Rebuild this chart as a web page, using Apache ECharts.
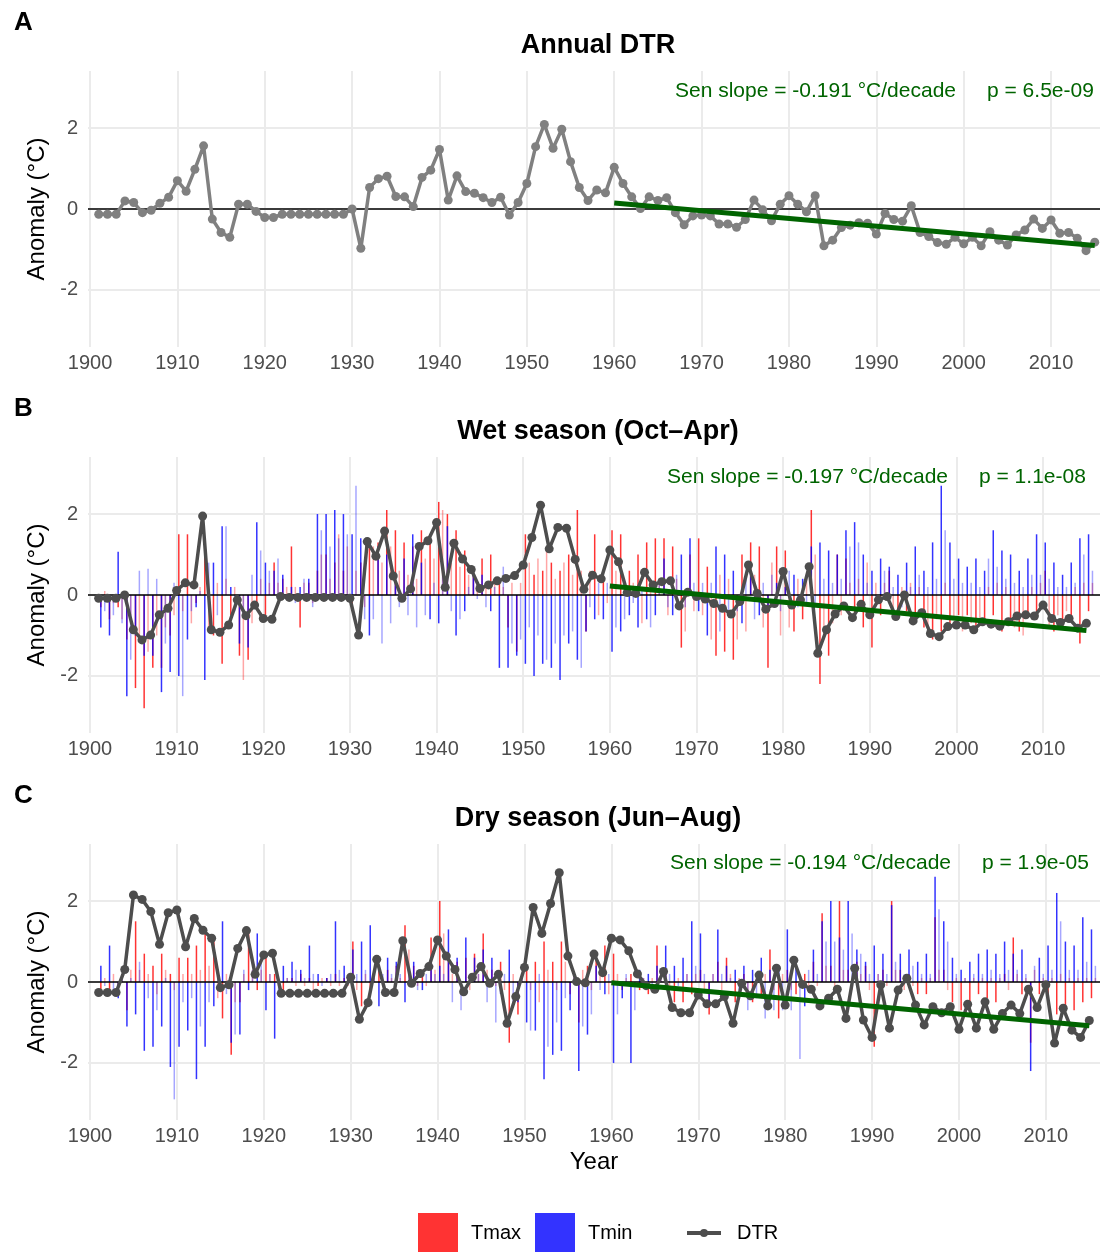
<!DOCTYPE html>
<html>
<head>
<meta charset="utf-8">
<title>DTR anomalies</title>
<script src="https://cdn.jsdelivr.net/npm/echarts@6/dist/echarts.min.js"></script>
<style>
html,body{margin:0;padding:0;background:#fff}
#chart{width:1100px;height:1252px}
</style>
</head>
<body>
<div id="chart"></div>
<script>
var firstYear = 1901, lastYear = 2015;
var years = [];
for (var y = firstYear; y <= lastYear; y++) years.push(y);
var xTicks = [1900, 1910, 1920, 1930, 1940, 1950, 1960, 1970, 1980, 1990, 2000, 2010];
var yTicks = [-2, 0, 2];

// DTR anomaly, one value per year 1901-2015
var dtrAnnual = [
  -0.13, -0.13, -0.13, 0.20, 0.16, -0.09, -0.03, 0.14, 0.29, 0.70,
  0.44, 0.98, 1.56, -0.25, -0.58, -0.70, 0.12, 0.12, -0.06, -0.21,
  -0.21, -0.13, -0.13, -0.13, -0.13, -0.13, -0.13, -0.13, -0.13, 0.00,
  -0.97, 0.53, 0.75, 0.81, 0.31, 0.30, 0.06, 0.78, 0.96, 1.47,
  0.22, 0.82, 0.43, 0.39, 0.28, 0.16, 0.29, -0.15, 0.16, 0.63,
  1.54, 2.09, 1.50, 1.97, 1.17, 0.53, 0.21, 0.47, 0.40, 1.03,
  0.63, 0.30, 0.01, 0.30, 0.21, 0.28, -0.09, -0.39, -0.17, -0.15,
  -0.17, -0.37, -0.37, -0.45, -0.26, 0.22, -0.02, -0.29, 0.12, 0.33,
  0.12, -0.07, 0.33, -0.91, -0.77, -0.46, -0.40, -0.34, -0.35, -0.62,
  -0.11, -0.26, -0.30, 0.08, -0.58, -0.68, -0.83, -0.87, -0.70, -0.86,
  -0.70, -0.91, -0.56, -0.77, -0.89, -0.64, -0.52, -0.25, -0.48, -0.27,
  -0.60, -0.58, -0.72, -1.03, -0.82
];
var dtrWet = [
  -0.08, -0.08, -0.08, 0.00, -0.86, -1.11, -0.99, -0.49, -0.33, 0.11,
  0.30, 0.25, 1.95, -0.86, -0.92, -0.74, -0.12, -0.51, -0.25, -0.58,
  -0.60, -0.04, -0.06, -0.06, -0.06, -0.06, -0.06, -0.06, -0.06, -0.08,
  -0.99, 1.32, 0.96, 1.58, 0.47, -0.08, 0.15, 1.20, 1.34, 1.79,
  0.19, 1.28, 0.89, 0.63, 0.16, 0.25, 0.35, 0.41, 0.48, 0.74,
  1.42, 2.22, 1.14, 1.67, 1.65, 0.88, 0.14, 0.49, 0.40, 1.11,
  0.82, 0.06, 0.04, 0.56, 0.25, 0.33, 0.35, -0.27, 0.07, -0.04,
  -0.10, -0.21, -0.33, -0.47, -0.16, 0.74, 0.04, -0.35, -0.21, 0.58,
  -0.25, -0.12, 0.70, -1.44, -0.86, -0.47, -0.27, -0.56, -0.23, -0.49,
  -0.12, -0.04, -0.53, 0.00, -0.64, -0.44, -0.95, -1.03, -0.78, -0.74,
  -0.74, -0.86, -0.66, -0.72, -0.77, -0.66, -0.52, -0.49, -0.52, -0.25,
  -0.58, -0.68, -0.58, -0.82, -0.70
];
var dtrDry = [
  -0.26, -0.26, -0.26, 0.31, 2.15, 2.04, 1.74, 0.93, 1.71, 1.78,
  0.87, 1.57, 1.28, 1.08, -0.14, -0.07, 0.83, 1.27, 0.19, 0.67,
  0.71, -0.28, -0.28, -0.28, -0.28, -0.28, -0.28, -0.28, -0.28, 0.12,
  -0.92, -0.51, 0.56, -0.26, -0.26, 1.02, -0.03, 0.21, 0.38, 1.04,
  0.64, 0.31, -0.24, 0.12, 0.38, -0.03, 0.19, -1.02, -0.36, 0.36,
  1.84, 1.20, 1.94, 2.70, 0.64, 0.01, -0.02, 0.69, 0.23, 1.08,
  1.04, 0.77, 0.20, -0.09, -0.18, 0.26, -0.63, -0.76, -0.76, -0.32,
  -0.54, -0.54, -0.36, -1.02, -0.03, -0.34, 0.17, -0.59, 0.34, -0.57,
  0.54, -0.06, -0.18, -0.59, -0.40, -0.18, -0.90, 0.34, -0.94, -1.37,
  -0.07, -1.14, -0.20, 0.09, -0.57, -1.06, -0.61, -0.76, -0.61, -1.17,
  -0.55, -1.14, -0.49, -1.17, -0.78, -0.57, -0.78, -0.18, -0.63, -0.07,
  -1.51, -0.65, -1.19, -1.37, -0.95
];

// Sen slope lines, 1960-2015
var trendAnnual = [[1960, 0.15], [2015, -0.90]];
var trendWet = [[1960, 0.22], [2015, -0.88]];
var trendDry = [[1960, -0.02], [2015, -1.08]];
var senText = ['Sen slope = -0.191 \u00b0C/decade', 'Sen slope = -0.197 \u00b0C/decade', 'Sen slope = -0.194 \u00b0C/decade'];
var pText = ['p = 6.5e-09', 'p = 1.1e-08', 'p = 1.9e-05'];

// Tmax / Tmin anomalies, two readings per year [strong, faint]
var tmaxWet = [
  [-0.3,0.1],[-0.6,-0.2],[-0.3,-0.6],[-1.1,-0.5],[-2.3,-1.0],[-2.8,-1.4],[-1.8,-1.0],[-1.8,-0.8],[-1.0,-0.5],[1.5,-0.4],
  [1.5,-0.7],[-0.2,0.2],[1.2,-0.8],[-1.0,0.3],[-1.7,0.4],[-0.5,0.2],[-1.5,-2.1],[-1.6,-0.7],[-0.3,0.4],[-0.5,0.3],
  [0.8,0.3],[0.4,0.2],[1.2,0.2],[-0.8,0.3],[0.3,-0.2],[0.6,1.0],[1.0,0.4],[0.8,1.5],[0.6,1.2],[-0.3,0.6],
  [0.8,-0.3],[1.4,1.2],[1.3,0.8],[2.1,1.2],[1.6,0.6],[1.3,0.5],[1.2,0.4],[1.6,0.9],[1.4,0.9],[2.3,2.1],
  [2.0,0.8],[1.6,0.7],[1.1,0.5],[0.5,0.3],[0.9,0.3],[1.0,0.4],[0.4,0.2],[-0.8,0.3],[-1.4,0.3],[1.5,0.8],
  [0.5,0.9],[0.6,1.2],[0.8,0.4],[0.6,0.8],[1.0,0.5],[2.1,0.6],[-0.9,0.6],[1.5,-0.5],[0.4,-0.2],[1.6,0.6],
  [1.5,0.3],[0.6,0.3],[1.0,-0.7],[1.3,0.4],[1.4,0.3],[1.4,-0.5],[1.2,0.4],[-1.3,-0.9],[1.0,-0.4],[1.4,-0.5],
  [0.7,-1.1],[-1.5,0.5],[-1.4,0.4],[-1.6,-1.1],[1.0,-0.9],[1.3,0.5],[1.2,-0.8],[-1.8,0.8],[1.2,-1.0],[1.1,-0.8],
  [-0.9,0.4],[-0.6,0.5],[2.1,1.0],[-2.2,-1.1],[-1.5,-0.7],[1.0,-0.5],[0.9,0.3],[-0.5,0.4],[-0.8,0.8],[-1.3,0.3],
  [-0.5,0.3],[0.6,-0.6],[-0.5,0.2],[-0.4,0.3],[-0.6,0.2],[-0.8,-1.0],[-1.1,-0.6],[-0.9,0.3],[-0.8,-0.6],[-0.5,-0.9],
  [-0.5,-0.7],[-0.9,-0.6],[-0.7,0.2],[-0.5,0.3],[-0.9,0.2],[-0.7,-0.8],[-0.9,-1.0],[-0.5,0.2],[-0.6,0.3],[0.6,-0.8],
  [-0.9,-0.5],[-0.8,-0.4],[-0.6,0.2],[-1.2,0.3],[-0.4,0.3]
];
var tminWet = [
  [-0.8,-0.4],[-1.0,-0.5],[1.07,-0.7],[-2.5,-1.6],[-1.0,0.6],[-1.5,0.65],[-1.5,0.4],[-2.4,-1.2],[-1.9,0.3],[-2.0,-2.5],
  [-1.1,-0.4],[-0.3,0.1],[-2.1,0.8],[0.8,-0.5],[1.7,1.7],[0.2,-0.4],[-1.2,-0.5],[-1.3,0.5],[1.8,1.1],[0.8,0.6],
  [0.6,0.9],[0.5,-0.1],[0.2,-0.2],[0.2,0.4],[0.4,-0.3],[2.0,1.6],[2.0,1.2],[2.1,1.4],[2.0,1.5],[1.5,2.7],
  [1.4,-0.6],[-1.0,-0.6],[1.2,-1.2],[1.0,-0.7],[0.3,-0.3],[0.9,-0.5],[1.5,-0.8],[0.8,-0.5],[-0.6,0.3],[-0.7,0.5],
  [1.7,-0.4],[-1.0,-0.6],[-0.4,0.2],[0.5,-0.1],[0.5,-0.3],[-0.4,0.2],[-1.8,0.7],[-1.8,-1.2],[-1.5,-1.1],[-1.7,-0.8],
  [-2.0,-1.0],[-1.7,-1.6],[-1.8,-1.2],[-2.1,-1.0],[-1.2,-0.9],[-1.6,-1.8],[-0.9,-0.3],[-0.6,0.3],[-0.6,0.3],[-1.4,-0.8],
  [-0.9,-0.6],[-0.5,-0.2],[-0.8,0.2],[-0.6,-0.8],[-0.5,0.3],[0.9,-0.3],[-0.5,0.5],[1.0,-0.3],[1.4,0.3],[-0.4,0.3],
  [-1.0,0.3],[1.2,-0.9],[1.0,-0.5],[0.6,-0.4],[-0.7,0.4],[0.6,-0.6],[-0.5,0.3],[-0.3,0.5],[0.3,-0.4],[0.2,0.6],
  [0.5,-0.3],[0.4,-0.2],[1.2,-0.3],[1.3,0.4],[1.1,0.3],[1.0,0.4],[1.6,1.2],[1.8,1.3],[1.0,0.3],[0.6,-0.3],
  [0.9,0.6],[0.7,0.2],[0.5,-0.3],[0.8,0.2],[1.2,0.5],[0.6,0.2],[1.3,0.4],[2.7,1.6],[1.3,0.4],[0.9,0.3],
  [0.7,0.3],[0.9,0.2],[0.6,0.9],[1.6,0.7],[1.1,0.4],[1.0,0.3],[0.6,0.2],[0.9,0.5],[1.5,0.5],[1.3,0.4],
  [0.8,0.2],[0.5,0.2],[0.8,0.3],[1.4,1.0],[1.5,0.6]
];
var tmaxDry = [
  [-0.2,0.1],[-0.3,0.2],[-0.3,0.1],[-0.7,0.3],[1.5,0.3],[0.7,0.2],[0.4,-0.3],[0.7,0.3],[0.2,-0.2],[0.6,0.2],
  [0.6,0.2],[0.9,0.3],[1.2,0.4],[1.0,-0.4],[-0.9,0.2],[-1.8,-0.5],[-0.5,0.2],[1.2,0.3],[-0.2,0.3],[0.6,0.2],
  [0.2,-0.1],[-0.2,0.1],[0.1,-0.1],[0.2,-0.1],[0.1,-0.2],[-0.1,0.1],[0.1,-0.1],[0.2,-0.1],[0.1,-0.1],[1.0,-0.2],
  [-0.6,0.2],[-0.3,0.1],[0.3,-0.1],[0.3,0.1],[0.4,0.1],[1.4,0.8],[0.4,-0.1],[0.3,-0.1],[1.1,0.3],[2.0,1.2],
  [0.6,0.2],[0.5,-0.2],[0.6,-0.2],[0.7,0.2],[1.2,0.3],[0.3,-0.1],[0.5,-0.2],[-1.5,0.2],[-0.8,0.2],[0.4,-0.2],
  [0.5,-0.5],[1.0,0.3],[0.5,-0.2],[1.0,0.5],[-0.3,0.2],[-1.0,0.3],[0.4,-0.2],[0.6,0.2],[0.9,-0.3],[0.7,0.2],
  [-0.2,0.1],[0.2,-0.1],[-0.2,0.1],[-0.3,0.1],[0.9,0.2],[0.3,-0.1],[-0.5,0.1],[-0.5,0.2],[-0.3,0.2],[0.3,-0.2],
  [-0.8,0.2],[0.5,-0.2],[0.6,0.2],[-0.5,0.1],[0.2,-0.2],[-0.5,0.1],[-0.4,0.2],[0.8,-0.2],[-0.9,0.2],[0.3,-0.2],
  [-0.3,0.2],[0.2,-0.2],[0.5,-0.1],[1.7,0.4],[0.4,-0.2],[2.0,0.3],[0.3,-0.2],[0.5,0.2],[0.4,-0.2],[-1.6,0.2],
  [0.3,-0.1],[2.0,0.3],[0.3,-0.2],[0.2,-0.1],[-0.3,0.1],[-0.3,0.1],[1.6,0.3],[0.3,-0.2],[-0.5,0.1],[-0.7,0.1],
  [-0.5,0.1],[-0.3,0.1],[-0.4,0.1],[-0.5,0.1],[0.2,-0.2],[1.1,0.2],[-0.3,0.1],[-1.5,0.3],[-0.3,0.1],[-0.4,0.1],
  [-0.8,0.2],[-0.6,0.1],[-0.7,0.1],[-0.5,0.1],[-0.4,0.1]
];
var tminDry = [
  [0.4,-0.1],[0.9,-0.3],[-0.4,0.2],[-1.1,0.1],[-0.8,0.5],[-1.7,-0.4],[-1.6,-0.7],[-1.1,0.1],[-2.1,-2.9],[-1.6,-0.5],
  [-1.2,-0.4],[-2.4,-1.1],[-1.6,-0.5],[-0.6,0.2],[1.5,-0.3],[-1.5,-1.3],[-1.3,0.3],[-0.2,0.3],[1.2,0.7],[-0.7,0.2],
  [-1.4,-0.3],[0.4,0.1],[0.5,0.3],[0.3,0.1],[0.9,0.2],[0.2,-0.1],[0.1,0.2],[1.5,0.3],[0.4,0.1],[0.8,0.2],
  [1.0,0.3],[1.4,0.2],[-0.6,0.2],[0.6,0.2],[0.5,0.2],[-0.5,0.2],[0.5,-0.2],[-0.2,0.2],[0.5,0.2],[0.4,0.2],
  [1.3,-0.5],[0.6,-0.7],[1.1,0.2],[0.6,0.2],[0.8,-0.5],[0.6,-1.0],[-0.3,0.2],[0.8,-0.6],[-0.5,0.2],[-1.0,-1.2],
  [-1.2,0.2],[-2.4,-1.6],[-1.8,-1.0],[-1.7,-0.4],[-0.7,0.2],[-2.2,-1.1],[-1.3,-0.8],[0.4,-0.2],[-0.3,0.2],[-2.0,-0.8],
  [-0.4,0.2],[-2.0,-0.7],[0.3,0.1],[0.2,-0.1],[0.4,0.1],[0.9,0.2],[0.4,-0.1],[0.6,0.2],[1.5,0.4],[1.2,0.2],
  [-0.5,0.2],[1.3,0.2],[0.4,0.1],[0.3,-0.2],[0.4,-0.7],[0.3,-0.4],[0.6,-0.9],[0.3,-0.7],[0.4,-0.7],[1.3,-0.7],
  [0.6,-1.9],[-0.6,0.3],[0.8,0.2],[1.5,1.0],[2.0,1.0],[1.1,0.8],[2.0,1.2],[0.8,0.7],[0.5,0.2],[0.9,0.2],
  [0.7,0.2],[1.9,0.5],[0.7,0.2],[0.8,0.4],[0.5,0.2],[0.7,0.2],[2.6,1.8],[1.5,1.0],[0.6,0.2],[0.3,0.1],
  [0.5,0.2],[0.7,0.2],[0.8,0.3],[0.7,0.2],[1.0,0.3],[0.7,0.3],[0.8,0.2],[-2.2,0.4],[0.6,0.2],[0.9,0.3],
  [2.2,1.5],[1.0,0.3],[0.9,0.3],[1.6,0.5],[1.3,0.4]
];

var FONT = 'Liberation Sans, Arial, Helvetica, sans-serif';
var subOffsets = [0.25, 0.7];
var subAlpha = [0.8, 0.35];

var panels = [
  { top: 71, xMax: 2015.6, dtr: dtrAnnual, dtrColor: '#808080', trend: trendAnnual, title: 'Annual DTR', letter: 'A' },
  { top: 457, xMax: 2016.57, dtr: dtrWet, dtrColor: '#4d4d4d', trend: trendWet, tmax: tmaxWet, tmin: tminWet, title: 'Wet season (Oct\u2013Apr)', letter: 'B' },
  { top: 844, xMax: 2016.23, dtr: dtrDry, dtrColor: '#4d4d4d', trend: trendDry, tmax: tmaxDry, tmin: tminDry, title: 'Dry season (Jun\u2013Aug)', letter: 'C' }
];
var senPos = [[675, 987, 92], [667, 979, 478], [670, 982, 864]];

function barData(pairs) {
  var out = [];
  for (var i = 0; i < pairs.length; i++) {
    for (var k = 0; k < 2; k++) out.push([years[i] + subOffsets[k], pairs[i][k], k]);
  }
  return out;
}

function renderBar(params, api) {
  var base = api.coord([api.value(0), 0]);
  var tip = api.coord([api.value(0), api.value(1)]);
  return {
    type: 'rect',
    shape: { x: base[0] - 0.75, y: Math.min(base[1], tip[1]), width: 1.5, height: Math.abs(tip[1] - base[1]) },
    style: { fill: api.visual('color'), opacity: subAlpha[api.value(2)] }
  };
}

var grids = [], xAxes = [], yAxes = [], series = [], titles = [], graphics = [];

panels.forEach(function (p, i) {
  grids.push({ left: 88, right: 0, top: p.top, height: 276 });
  xAxes.push({
    type: 'value', gridIndex: i, min: 1899.77, max: p.xMax,
    name: i === 2 ? 'Year' : '', nameLocation: 'middle', nameGap: 30,
    nameTextStyle: { fontSize: 24, color: '#000', fontFamily: FONT },
    axisLine: { show: false },
    axisTick: { show: false, customValues: xTicks },
    axisLabel: { customValues: xTicks, fontSize: 20, color: '#4d4d4d', margin: 6, fontFamily: FONT,
      formatter: function (v) { return String(v); } },
    splitLine: { show: true, lineStyle: { color: '#ebebeb', width: 2 } }
  });
  yAxes.push({
    type: 'value', gridIndex: i, min: -3.41, max: 3.41,
    name: 'Anomaly (\u00b0C)', nameLocation: 'middle', nameGap: 34, nameRotate: 90,
    nameTextStyle: { fontSize: 24, color: '#000', fontFamily: FONT },
    axisLine: { show: false },
    axisTick: { show: false, customValues: yTicks },
    axisLabel: { customValues: yTicks, fontSize: 20, color: '#4d4d4d', margin: 10, fontFamily: FONT },
    splitLine: { show: true, lineStyle: { color: '#ebebeb', width: 2 } }
  });

  if (p.tmax) {
    series.push({
      type: 'custom', name: 'Tmax', xAxisIndex: i, yAxisIndex: i, clip: true,
      itemStyle: { color: '#ff0000' }, renderItem: renderBar, data: barData(p.tmax), silent: true
    });
    series.push({
      type: 'custom', name: 'Tmin', xAxisIndex: i, yAxisIndex: i, clip: true,
      itemStyle: { color: '#0000ff' }, renderItem: renderBar, data: barData(p.tmin), silent: true
    });
  }

  series.push({
    type: 'line', name: 'DTR', xAxisIndex: i, yAxisIndex: i,
    data: years.map(function (yr, j) { return [yr, p.dtr[j]]; }),
    symbol: 'circle', symbolSize: 9, showSymbol: true,
    lineStyle: { color: p.dtrColor, width: 3.5 },
    itemStyle: { color: p.dtrColor },
    animation: false, z: 4,
    markLine: {
      silent: true, symbol: 'none', label: { show: false },
      lineStyle: { color: '#000', width: 1.5, type: 'solid' },
      data: [{ yAxis: 0 }], z: 3
    }
  });
  series.push({
    type: 'line', name: 'Sen', xAxisIndex: i, yAxisIndex: i,
    data: p.trend, symbol: 'none',
    lineStyle: { color: '#006400', width: 5 }, z: 5, animation: false
  });

  titles.push({ text: p.title, left: 593, top: p.top - 44, textAlign: 'center',
    textStyle: { fontSize: 27, fontWeight: 'bold', color: '#000', fontFamily: FONT } });
  titles.push({ text: p.letter, left: 9, top: p.top - 66,
    textStyle: { fontSize: 26, fontWeight: 'bold', color: '#000', fontFamily: FONT } });

  graphics.push({ type: 'text', left: senPos[i][0], top: senPos[i][2] - 11, z: 100,
    style: { text: senText[i], fontSize: 21, fill: '#006400', fontFamily: FONT } });
  graphics.push({ type: 'text', left: senPos[i][1], top: senPos[i][2] - 11, z: 100,
    style: { text: pText[i], fontSize: 21, fill: '#006400', fontFamily: FONT } });
});

// legend
graphics.push({ type: 'rect', z: 100, shape: { x: 418, y: 1213, width: 40, height: 40 }, style: { fill: '#ff3333' } });
graphics.push({ type: 'text', z: 100, left: 471, top: 1223, style: { text: 'Tmax', fontSize: 20, fill: '#000', fontFamily: FONT } });
graphics.push({ type: 'rect', z: 100, shape: { x: 535, y: 1213, width: 40, height: 40 }, style: { fill: '#3333ff' } });
graphics.push({ type: 'text', z: 100, left: 588, top: 1223, style: { text: 'Tmin', fontSize: 20, fill: '#000', fontFamily: FONT } });
graphics.push({ type: 'line', z: 100, shape: { x1: 687, y1: 1233, x2: 721, y2: 1233 }, style: { stroke: '#4d4d4d', lineWidth: 4 } });
graphics.push({ type: 'circle', z: 100, shape: { cx: 704, cy: 1233, r: 4 }, style: { fill: '#4d4d4d' } });
graphics.push({ type: 'text', z: 100, left: 737, top: 1223, style: { text: 'DTR', fontSize: 20, fill: '#000', fontFamily: FONT } });

var chart = echarts.init(document.getElementById('chart'), null, { renderer: 'canvas' });
chart.setOption({
  backgroundColor: '#fff',
  animation: false,
  title: titles,
  grid: grids,
  xAxis: xAxes,
  yAxis: yAxes,
  series: series,
  graphic: graphics
});
</script>
</body>
</html>
